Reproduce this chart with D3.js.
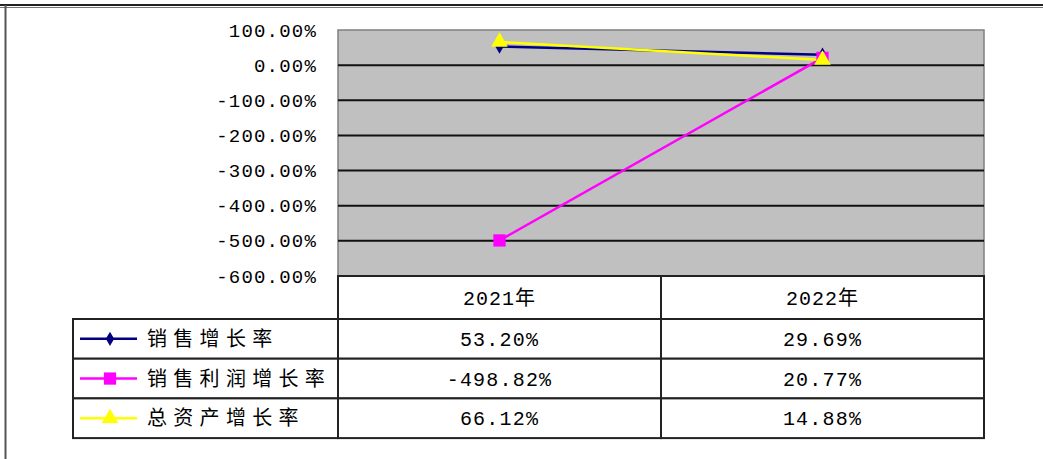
<!DOCTYPE html>
<html>
<head>
<meta charset="utf-8">
<script src="https://cdn.jsdelivr.net/npm/d3@7"></script>
<style>
  body { margin: 0; background: #fff; }
  svg { display: block; }
</style>
</head>
<body>
<svg id="chart" width="1043" height="459"></svg>
<script>
var years = ["2021年", "2022年"];
var seriesNames = ["销售增长率", "销售利润增长率", "总资产增长率"];
var salesGrowth = [53.20, 29.69];
var profitGrowth = [-498.82, 20.77];
var assetGrowth = [66.12, 14.88];
var yTicks = [100, 0, -100, -200, -300, -400, -500, -600];

var series = [
  {name: seriesNames[0], values: salesGrowth, color: "#000080", symbol: d3.symbolDiamond, size: 60},
  {name: seriesNames[1], values: profitGrowth, color: "#ff00ff", symbol: d3.symbolSquare, size: 150},
  {name: seriesNames[2], values: assetGrowth, color: "#ffff00", symbol: d3.symbolTriangle, size: 120}
];

var svg = d3.select("#chart");
var monoFont = "'Liberation Mono', 'DejaVu Sans Mono', 'Noto Sans CJK SC', monospace";
var cjkFont = "'Noto Sans CJK SC', sans-serif";

var plot = {left: 338, right: 984, top: 30, bottom: 276};
var headerH = 43, rowH = 39.7;

// outer frame
svg.append("line").attr("x1", 0).attr("x2", 1043).attr("y1", 5).attr("y2", 5)
  .attr("stroke", "#222").attr("stroke-width", 2);
svg.append("line").attr("x1", 0).attr("x2", 1043).attr("y1", 7.5).attr("y2", 7.5)
  .attr("stroke", "#777").attr("stroke-width", 1);
svg.append("line").attr("x1", 5.5).attr("x2", 5.5).attr("y1", 5).attr("y2", 459)
  .attr("stroke", "#555").attr("stroke-width", 2);

var x = d3.scaleBand().domain(years).range([plot.left, plot.right]).padding(0);
var y = d3.scaleLinear().domain([-600, 100]).range([plot.bottom, plot.top]);

// plot background
svg.append("rect")
  .attr("x", plot.left).attr("y", plot.top)
  .attr("width", plot.right - plot.left).attr("height", plot.bottom - plot.top)
  .attr("fill", "#c0c0c0").attr("stroke", "#808080").attr("stroke-width", 1.5);

// gridlines
svg.append("g").selectAll("line")
  .data(yTicks.filter(function(d) { return d < 100 && d > -600; }))
  .enter().append("line")
  .attr("x1", plot.left).attr("x2", plot.right)
  .attr("y1", function(d) { return y(d); }).attr("y2", function(d) { return y(d); })
  .attr("stroke", "#111").attr("stroke-width", 2);

// y axis
var yAxis = svg.append("g")
  .attr("transform", "translate(" + plot.left + ",0)")
  .call(d3.axisLeft(y).tickValues(yTicks).tickSize(0).tickPadding(21)
    .tickFormat(function(d) { return d.toFixed(2) + "%"; }));
yAxis.select(".domain").remove();
yAxis.selectAll("text")
  .attr("font-family", monoFont).attr("font-size", 19).attr("fill", "#000")
  .attr("letter-spacing", 1.2);

// lines and markers
var line = d3.line()
  .x(function(d, i) { return x(years[i]) + x.bandwidth() / 2; })
  .y(function(d) { return y(d); });

series.forEach(function(s) {
  svg.append("path").datum(s.values)
    .attr("d", line).attr("fill", "none")
    .attr("stroke", s.color).attr("stroke-width", 2.5);
});
series.forEach(function(s) {
  svg.append("g").selectAll("path")
    .data(s.values).enter().append("path")
    .attr("d", d3.symbol().type(s.symbol).size(s.size))
    .attr("transform", function(d, i) {
      return "translate(" + (x(years[i]) + x.bandwidth() / 2) + "," + y(d) + ")";
    })
    .attr("fill", s.color);
});

// data table
var tableTop = plot.bottom;
var legendLeft = 73;
var table = svg.append("g");
var rowsTop = tableTop + headerH;

// header cells
years.forEach(function(yr) {
  table.append("rect")
    .attr("x", x(yr)).attr("y", tableTop)
    .attr("width", x.bandwidth()).attr("height", headerH)
    .attr("fill", "#fff").attr("stroke", "#222").attr("stroke-width", 2);
  table.append("text")
    .attr("x", x(yr) + x.bandwidth() / 2).attr("y", tableTop + headerH / 2 + 7)
    .attr("text-anchor", "middle")
    .attr("font-family", monoFont).attr("font-size", 20).attr("letter-spacing", 1)
    .text(yr);
});

series.forEach(function(s, r) {
  var top = rowsTop + r * rowH;
  var mid = top + rowH / 2;
  table.append("rect")
    .attr("x", legendLeft).attr("y", top)
    .attr("width", plot.left - legendLeft).attr("height", rowH)
    .attr("fill", "#fff").attr("stroke", "#222").attr("stroke-width", 2);
  table.append("line")
    .attr("x1", 80).attr("x2", 137).attr("y1", mid).attr("y2", mid)
    .attr("stroke", s.color).attr("stroke-width", 2.5);
  table.append("path")
    .attr("d", d3.symbol().type(s.symbol).size(s.size))
    .attr("transform", "translate(110," + mid + ")")
    .attr("fill", s.color);
  table.append("text")
    .attr("x", 147).attr("y", mid + 7)
    .attr("font-family", cjkFont).attr("font-size", 20).attr("letter-spacing", 6.3)
    .text(s.name);
  years.forEach(function(yr, i) {
    table.append("rect")
      .attr("x", x(yr)).attr("y", top)
      .attr("width", x.bandwidth()).attr("height", rowH)
      .attr("fill", "#fff").attr("stroke", "#222").attr("stroke-width", 2);
    table.append("text")
      .attr("x", x(yr) + x.bandwidth() / 2).attr("y", mid + 7)
      .attr("text-anchor", "middle")
      .attr("font-family", monoFont).attr("font-size", 20).attr("letter-spacing", 1.2)
      .text(s.values[i].toFixed(2) + "%");
  });
});
</script>
</body>
</html>
